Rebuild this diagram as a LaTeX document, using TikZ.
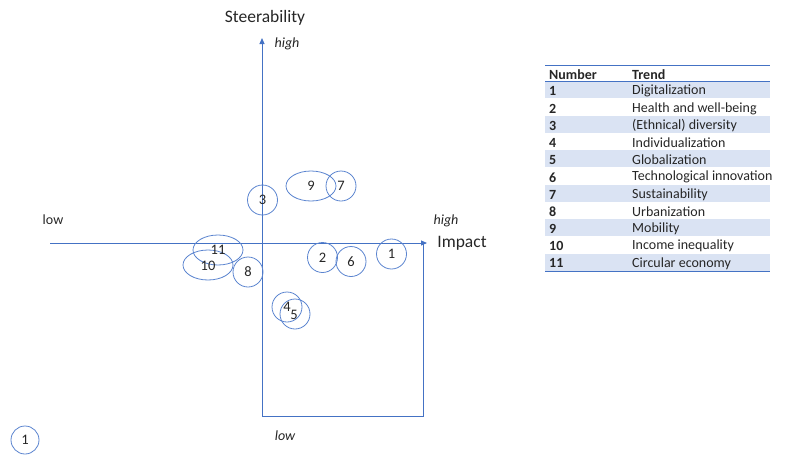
\documentclass[tikz,border=0pt]{standalone}
\usepackage{fontspec}
\setmainfont{Carlito}
\usetikzlibrary{arrows.meta,shapes.geometric}
\definecolor{axisblue}{HTML}{4472C4}
\definecolor{ringblue}{HTML}{5B84CF}
\definecolor{rowshade}{HTML}{DAE3F3}
\begin{document}
\begin{tikzpicture}[x=1pt,y=-1pt,
  axis/.style={draw=axisblue,line width=0.9pt},
  ring/.style={draw=ringblue,line width=0.8pt,circle,minimum size=30pt,inner sep=0pt},
  oval/.style={draw=ringblue,line width=0.8pt,ellipse,minimum width=50pt,minimum height=30pt,inner sep=0pt},
  num/.style={font=\fontsize{14.5}{16}\selectfont,inner sep=0pt,text=black!85},
  lbl/.style={font=\fontsize{14}{16}\selectfont,inner sep=0pt,text=black!85},
  itl/.style={font=\fontsize{14}{16}\selectfont\itshape,inner sep=0pt,text=black!85},
  ttl/.style={font=\fontsize{17.5}{20}\selectfont,inner sep=0pt,text=black!85},
  cell/.style={font=\fontsize{14}{16}\selectfont,inner sep=0pt,anchor=west,text=black!85},
  bcell/.style={cell,font=\fontsize{14}{16}\selectfont\bfseries}]
\useasboundingbox (0,0) rectangle (807,461);

% axes
\coordinate (ytop) at (262,38);
\coordinate (ybot) at (262,416);
\coordinate (xleft) at (50,243);
\coordinate (xright) at (427,243);
\coordinate (corner) at (423,416);
\coordinate (xfoot) at (423,243);
\draw[axis,-{Triangle[length=6pt,width=5pt]}] (ybot) -- (ytop);
\draw[axis,-{Triangle[length=6pt,width=5pt]}] (xleft) -- (xright);
\draw[axis] (ybot) -- (corner) -- (xfoot);

% axis labels
\node[ttl] (steer) at (265,18) {Steerability};
\node[itl] (yhigh) at (287,44) {high};
\node[lbl] (xlow) at (53,220) {low};
\node[itl] (xhigh) at (446,221) {high};
\node[ttl] (impact) at (462,243) {Impact};
\node[itl] (ylow) at (285,436) {low};

% trend markers
\node[ring] (t3) at (262.5,200) {};
\node[num] at (t3) {3};
\node[oval] (t9) at (311,186) {};
\node[num] at (t9) {9};
\node[ring] (t7) at (341,186) {};
\node[num] at (t7) {7};
\node[oval] (t11) at (218,250) {};
\node[oval] (t10) at (208,265) {};
\node[num] at (218,250) {11};
\node[num] at (208,266) {10};
\node[ring] (t8) at (248,272) {};
\node[num] at (t8) {8};
\node[ring] (t2) at (322.5,257.5) {};
\node[num] at (t2) {2};
\node[ring] (t6) at (351,261.5) {};
\node[num] at (t6) {6};
\node[ring] (t1) at (391.5,254) {};
\node[num] at (t1) {1};
\node[ring] (t4) at (287,307) {};
\node[ring] (t5) at (295,314) {};
\node[num] at (287,307) {4};
\node[num] at (294,315) {5};

% legend marker
\node[ring,minimum size=28pt] (key) at (25,440) {};
\node[num] at (key) {1};

% table
\fill[rowshade] (545,81) rectangle (770,98.27);
\foreach \i in {2,4,6,8,10}{
  \fill[rowshade] (545,81+17.27*\i) rectangle (770,81+17.27*\i+17.27);
}
\draw[axisblue,line width=0.8pt] (545,65) -- (770,65);
\draw[axisblue,line width=0.8pt] (545,81) -- (770,81);
\draw[axisblue,line width=0.8pt] (545,271) -- (770,271);
\node[bcell] (hnum) at (549,74.5) {Number};
\node[bcell] (htrend) at (632,74.5) {Trend};
\foreach \n/\t [count=\k from 0] in {1/Digitalization,2/Health and well-being,3/(Ethnical) diversity,4/Individualization,5/Globalization,6/Technological innovation,7/Sustainability,8/Urbanization,9/Mobility,10/Income inequality,11/Circular economy}{
  \node[bcell] (n\n) at (549,91.3+17.2*\k) {\n};
  \node[cell] (r\n) at (632,91.3+17.2*\k) {\t};
}
\end{tikzpicture}
\end{document}
